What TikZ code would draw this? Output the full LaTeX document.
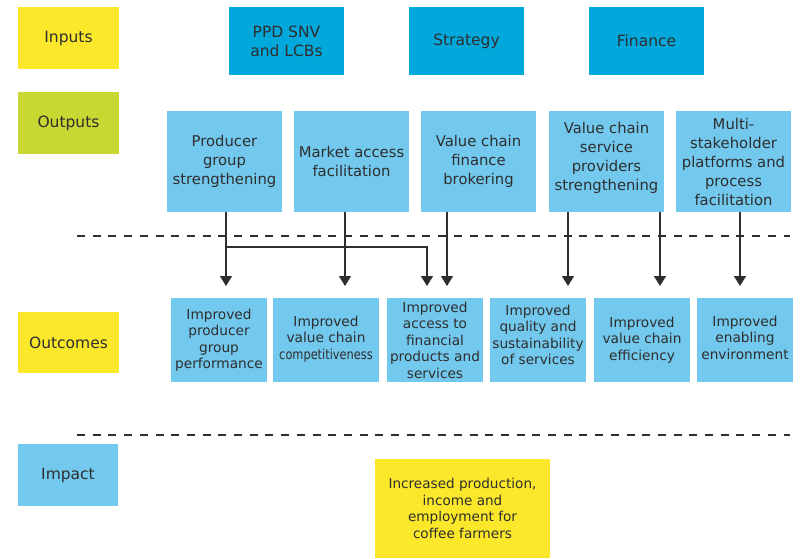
\documentclass[tikz,border=0pt]{standalone}
\usepackage{fontspec}
\usepackage{graphicx}
\setmainfont{DejaVu Sans}
\usetikzlibrary{arrows.meta}
\definecolor{yel}{HTML}{FBE82B}
\definecolor{ygreen}{HTML}{C8D732}
\definecolor{dblue}{HTML}{00A8DC}
\definecolor{lblue}{HTML}{73C8ED}
\definecolor{txt}{HTML}{2E2E2E}
\definecolor{ln}{HTML}{2E2E2E}
\tikzset{
  base/.style={inner sep=0pt, outer sep=0pt, align=center, text=txt, anchor=north west},
  lab/.style={base, minimum width=101pt, minimum height=62pt, font=\fontsize{15.5}{19}\selectfont},
  inp/.style={base, fill=dblue, minimum width=115pt, minimum height=68pt, font=\fontsize{15.5}{19}\selectfont},
  outp/.style={base, fill=lblue, minimum width=115pt, minimum height=101pt, font=\fontsize{14.8}{19}\selectfont},
  outc/.style={base, fill=lblue, minimum height=84pt, font=\fontsize{13.7}{16.5}\selectfont},
  arr/.style={ln, line width=1.5pt, -{Triangle[width=12pt,length=10pt]}},
  sep/.style={ln, line width=1.2pt, dash pattern=on 8pt off 7.7pt},
}
\begin{document}
\begin{tikzpicture}[x=1pt,y=-1pt]
\useasboundingbox (0,0) rectangle (801,559);
% row labels
\node[lab, fill=yel] (inputs) at (18,7) {Inputs};
\node[lab, fill=ygreen] (outputs) at (18,92) {Outputs};
\node[lab, fill=yel, minimum height=61pt] (outcomes) at (18,312) {Outcomes};
\node[lab, fill=lblue, minimum width=100pt] (impactlbl) at (18,444) {Impact};
% inputs
\node[inp] (ppd) at (229,7) {PPD SNV\\and LCBs};
\node[inp] (strat) at (409,7) {Strategy};
\node[inp] (fin) at (589,7) {Finance};
% outputs
\node[outp] (o1) at (167,111) {Producer\\group\\strengthening};
\node[outp] (o2) at (294,111) {Market access\\facilitation};
\node[outp] (o3) at (421,111) {Value chain\\finance\\brokering};
\node[outp] (o4) at (549,111) {Value chain\\service\\providers\\strengthening\\[-8pt]};
\node[outp] (o5) at (676,111) {Multi-\\stakeholder\\platforms and\\process\\facilitation};
% outcomes
\node[outc, minimum width=96pt] (c1) at (171,298) {Improved\\producer\\group\\performance};
\node[outc, minimum width=106pt] (c2) at (273,298) {Improved\\value chain\\\scalebox{0.83}[1]{competitiveness}\\[-11.5pt]};
\node[outc, minimum width=96pt] (c3) at (387,298) {Improved\\access to\\financial\\products and\\services};
\node[outc, minimum width=96pt] (c4) at (490,298) {Improved\\quality and\\sustainability\\of services\\[-6.5pt]};
\node[outc, minimum width=96pt] (c5) at (594,298) {Improved\\value chain\\efficiency};
\node[outc, minimum width=96pt] (c6) at (697,298) {Improved\\enabling\\environment\\[-11.5pt]};
% impact
\node[base, fill=yel, minimum width=175pt, minimum height=99pt, font=\fontsize{13.6}{16.8}\selectfont] (imp) at (375,459) {Increased production,\\income and\\employment for\\coffee farmers};
% separators
\draw[sep] (77,236) -- (790,236);
\draw[sep] (77,435) -- (790,435);
% arrows
\draw[arr, shorten >=12pt] ([xshift=1.5pt]o1.south) -- ([xshift=1.5pt]o1.south |- c1.north);
\draw[arr, shorten >=12pt] ([xshift=-6.5pt]o2.south) -- ([xshift=-6.5pt]o2.south |- c2.north);
\draw[arr, shorten >=12pt] ([xshift=-31.5pt]o3.south) -- ([xshift=-31.5pt]o3.south |- c3.north);
\draw[arr, shorten >=12pt] ([xshift=-38.5pt]o4.south) -- ([xshift=-38.5pt]o4.south |- c4.north);
\draw[arr, shorten >=12pt] ([xshift=53.5pt]o4.south) -- ([xshift=53.5pt]o4.south |- c5.north);
\draw[arr, shorten >=12pt] ([xshift=6.5pt]o5.south) -- ([xshift=6.5pt]o5.south |- c6.north);
\coordinate (br) at (226,247);
\coordinate (brend) at (427,286);
\draw[arr] (br) -| (brend);
\end{tikzpicture}
\end{document}
